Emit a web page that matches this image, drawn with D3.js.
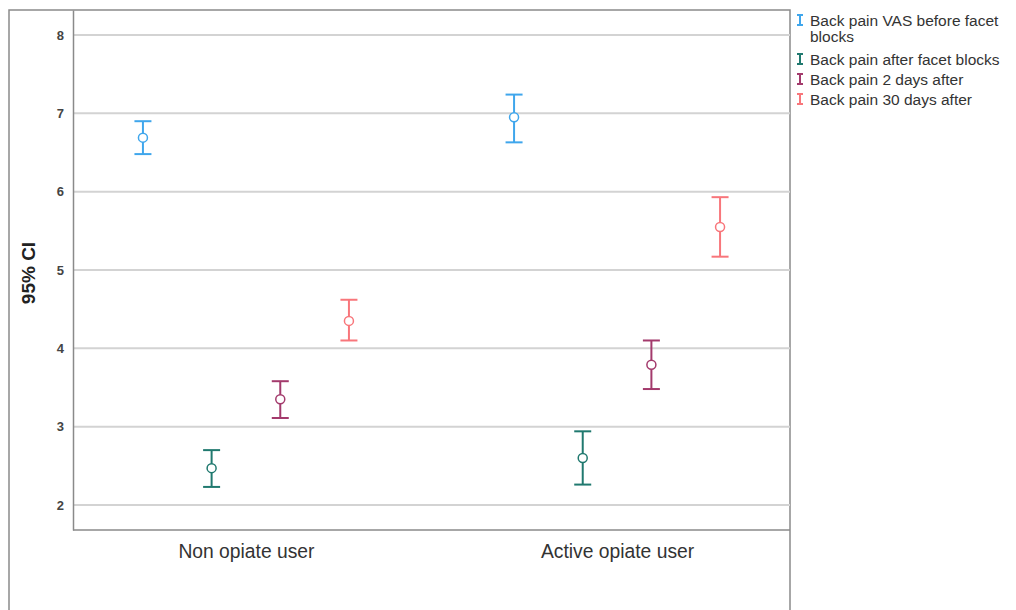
<!DOCTYPE html>
<html>
<head>
<meta charset="utf-8">
<script src="https://cdn.jsdelivr.net/npm/d3@7"></script>
<style>
  body { margin: 0; background: #fff; }
  svg { display: block; font-family: "Liberation Sans", Arial, sans-serif; }
</style>
</head>
<body>
<svg id="chart" width="1016" height="610"></svg>
<script>
let groups = ['Non opiate user', 'Active opiate user']
let series = ['Back pain VAS before facet blocks', 'Back pain after facet blocks', 'Back pain 2 days after', 'Back pain 30 days after']
let colors = ['#3fa6ec', '#20796f', '#a33a6c', '#f8767b']

// mean and 95% CI per series, one value per group
let means = [[6.69, 6.95], [2.47, 2.60], [3.35, 3.79], [4.35, 5.55]]
let lower = [[6.48, 6.63], [2.23, 2.26], [3.11, 3.48], [4.10, 5.17]]
let upper = [[6.90, 7.24], [2.70, 2.94], [3.58, 4.10], [4.62, 5.93]]
let yTicks = [2, 3, 4, 5, 6, 7, 8]

let svg = d3.select('#chart')

let plotLeft = 73, plotRight = 790, plotTop = 10, plotBottom = 530

let x = d3.scalePoint()
            .domain(groups)
            .range([plotLeft, plotRight])
            .padding(0.466)

let offset = d3.scalePoint()
            .domain(series)
            .range([-103, 103])

let y = d3.scaleLinear()
            .domain([1.68, 8.32])
            .range([plotBottom, plotTop])

// outer frame
svg.append('rect')
    .attr('x', 9)
    .attr('y', 10)
    .attr('width', plotRight - 9)
    .attr('height', 640)
    .attr('fill', 'none')
    .attr('stroke', '#8a8a8a')
    .attr('stroke-width', 1.5)

// gridlines
svg.append('g')
    .selectAll('line')
    .data(yTicks)
    .enter()
    .append('line')
    .attr('x1', plotLeft)
    .attr('x2', plotRight)
    .attr('y1', (d) => y(d))
    .attr('y2', (d) => y(d))
    .attr('stroke', '#d3d3d3')
    .attr('stroke-width', 2)

// y axis
let yAxis = d3.axisLeft(y).tickValues(yTicks).tickFormat(d3.format('d')).tickSize(0).tickPadding(9)
let yG = svg.append('g')
    .attr('transform', 'translate(' + plotLeft + ',0)')
    .call(yAxis)
yG.select('.domain').attr('stroke', '#8a8a8a').attr('stroke-width', 1.5)
yG.selectAll('text')
    .attr('font-size', 13)
    .attr('font-weight', 'bold')
    .attr('fill', '#444')
    .attr('font-family', '"Liberation Sans", Arial, sans-serif')

// x axis
let xAxis = d3.axisBottom(x).tickSize(0).tickPadding(14)
let xG = svg.append('g')
    .attr('transform', 'translate(0,' + plotBottom + ')')
    .call(xAxis)
xG.select('.domain').attr('stroke', '#8a8a8a').attr('stroke-width', 1.5).attr('d', 'M' + plotLeft + ',0H' + plotRight)
xG.selectAll('text')
    .attr('font-size', 19.3)
    .attr('fill', '#333')
    .attr('font-family', '"Liberation Sans", Arial, sans-serif')

// y label
svg.append('text')
    .attr('transform', 'translate(35,273) rotate(-90)')
    .attr('text-anchor', 'middle')
    .attr('font-size', 19)
    .attr('font-weight', 'bold')
    .attr('fill', '#222')
    .text('95% CI')

// error bars
let capHalf = 8.5
series.forEach((name, si) => {
    let g = svg.append('g')
    let rows = groups.map((grp, gi) => {
        return { grp: grp, mean: means[si][gi], lo: lower[si][gi], hi: upper[si][gi] }
    })
    let cx = (d) => x(d.grp) + offset(name)

    g.selectAll('.stem').data(rows).enter().append('line')
        .attr('x1', cx).attr('x2', cx)
        .attr('y1', (d) => y(d.lo)).attr('y2', (d) => y(d.hi))
        .attr('stroke', colors[si]).attr('stroke-width', 2)
    g.selectAll('.capTop').data(rows).enter().append('line')
        .attr('x1', (d) => cx(d) - capHalf).attr('x2', (d) => cx(d) + capHalf)
        .attr('y1', (d) => y(d.hi)).attr('y2', (d) => y(d.hi))
        .attr('stroke', colors[si]).attr('stroke-width', 2)
    g.selectAll('.capBot').data(rows).enter().append('line')
        .attr('x1', (d) => cx(d) - capHalf).attr('x2', (d) => cx(d) + capHalf)
        .attr('y1', (d) => y(d.lo)).attr('y2', (d) => y(d.lo))
        .attr('stroke', colors[si]).attr('stroke-width', 2)
    g.selectAll('circle').data(rows).enter().append('circle')
        .attr('cx', cx).attr('cy', (d) => y(d.mean))
        .attr('r', 4.5)
        .attr('fill', '#fff')
        .attr('stroke', colors[si]).attr('stroke-width', 1.5)
})

// legend
let legendLines = [['Back pain VAS before facet', 'blocks'], ['Back pain after facet blocks'], ['Back pain 2 days after'], ['Back pain 30 days after']]
let legendY = [20, 59, 79, 99]
let legend = svg.append('g')
series.forEach((name, si) => {
    let ly = legendY[si]
    let item = legend.append('g').attr('transform', 'translate(0,' + ly + ')')
    item.append('line').attr('x1', 800).attr('x2', 800).attr('y1', -5).attr('y2', 5)
        .attr('stroke', colors[si]).attr('stroke-width', 2)
    item.append('line').attr('x1', 797).attr('x2', 803).attr('y1', -5).attr('y2', -5)
        .attr('stroke', colors[si]).attr('stroke-width', 2)
    item.append('line').attr('x1', 797).attr('x2', 803).attr('y1', 5).attr('y2', 5)
        .attr('stroke', colors[si]).attr('stroke-width', 2)
    let t = item.append('text')
        .attr('x', 810)
        .attr('y', 5.5)
        .attr('font-size', 15.5)
        .attr('fill', '#333')
    legendLines[si].forEach((line, li) => {
        t.append('tspan').attr('x', 810).attr('dy', li === 0 ? 0 : 16).text(line)
    })
})
</script>
</body>
</html>
